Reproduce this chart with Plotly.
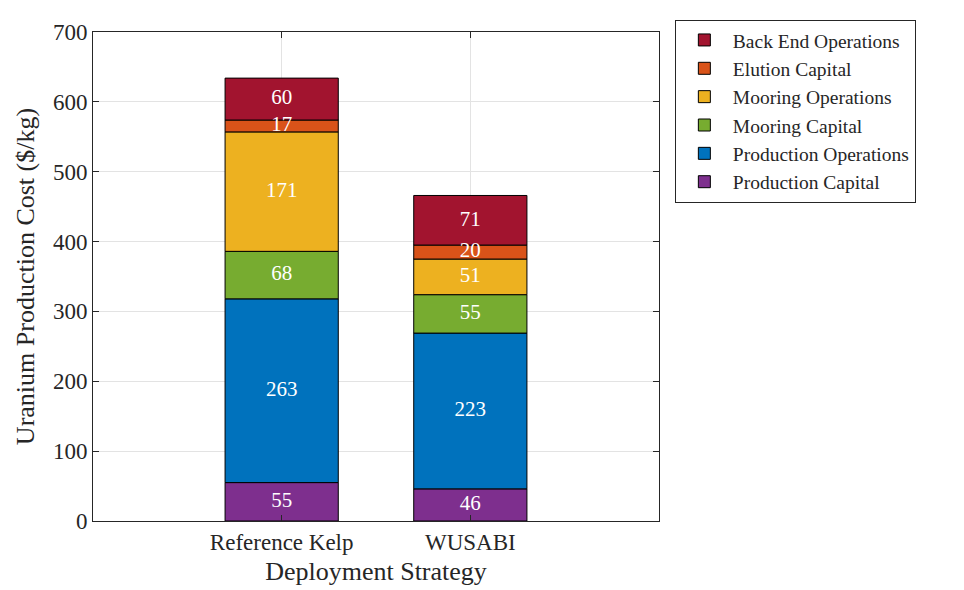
import plotly.graph_objects as go
import numpy as np

categories = ["Reference Kelp", "WUSABI"]
cat_pos = [1, 2]
series_names = ["Production Capital", "Production Operations", "Mooring Capital",
                "Mooring Operations", "Elution Capital", "Back End Operations"]
production_capital = [55, 46]
production_operations = [263, 223]
mooring_capital = [68, 55]
mooring_operations = [171, 51]
elution_capital = [17, 20]
back_end_operations = [60, 71]
y_ticks = [0, 100, 200, 300, 400, 500, 600, 700]

series_values = [production_capital, production_operations, mooring_capital,
                 mooring_operations, elution_capital, back_end_operations]
colors = ["#7E2F8E", "#0072BD", "#77AC30", "#EDB120", "#D95319", "#A2142F"]

FONT = "Liberation Serif"
AX = "#262626"

fig = go.Figure()
base = np.zeros(len(categories))
label_x, label_y, label_t = [], [], []
for name, vals, col in zip(series_names, series_values, colors):
    vals = np.array(vals, dtype=float)
    fig.add_trace(go.Bar(x=cat_pos, y=vals, base=base, name=name, width=0.6,
                         marker=dict(color=col, line=dict(color="black", width=1))))
    for xi, b, v in zip(cat_pos, base, vals):
        label_x.append(xi)
        label_y.append(b + v / 2)
        label_t.append(str(int(v)))
    base = base + vals

fig.add_trace(go.Scatter(x=label_x, y=label_y, text=label_t, mode="text",
                         textfont=dict(family=FONT, size=21, color="white"),
                         showlegend=False, hoverinfo="skip"))

fig.update_layout(
    width=964, height=590,
    margin=dict(l=85, r=313, t=12, b=77),
    paper_bgcolor="white", plot_bgcolor="white",
    barmode="overlay",
    font=dict(family=FONT, color=AX),
    showlegend=True,
    legend=dict(x=1.028, y=1.025, xanchor="left", yanchor="top",
                traceorder="reversed", font=dict(family=FONT, size=19.5, color=AX),
                bordercolor=AX, borderwidth=1, bgcolor="white",
                tracegroupgap=0, itemwidth=47),
    xaxis=dict(range=[0, 3], tickmode="array", tickvals=cat_pos, ticktext=categories,
               showline=True, linecolor=AX, linewidth=1, mirror="ticks",
               ticks="inside", ticklen=6, tickcolor=AX,
               showgrid=True, gridcolor="#e3e3e3", zeroline=False,
               tickfont=dict(family=FONT, size=23, color=AX),
               title=dict(text="Deployment Strategy", font=dict(family=FONT, size=26, color=AX), standoff=8)),
    yaxis=dict(range=[0, 700], tickmode="array", tickvals=y_ticks,
               showline=True, linecolor=AX, linewidth=1, mirror="ticks",
               ticks="inside", ticklen=6, tickcolor=AX,
               showgrid=True, gridcolor="#e3e3e3", zeroline=False,
               tickfont=dict(family=FONT, size=23, color=AX),
               title=dict(text="Uranium Production Cost ($/kg)", font=dict(family=FONT, size=26, color=AX), standoff=10)),
)

fig.write_html("out.html")
